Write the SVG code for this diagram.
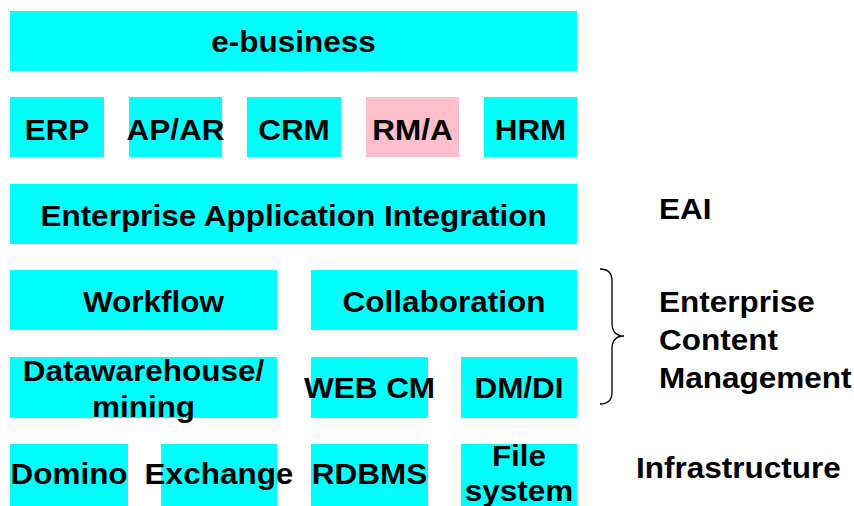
<svg xmlns="http://www.w3.org/2000/svg" width="854" height="506" viewBox="0 0 854 506">
<style>
.b{fill:#00FFFF}
.p{fill:#FFC0CB}
text{font-family:"Liberation Sans",Arial,sans-serif;font-weight:bold;font-size:30px;fill:#000}
.c{text-anchor:middle}
</style>
<rect width="854" height="506" fill="#fff"/>
<g id="ebusiness"><rect class="b" x="10" y="11" width="567" height="60"/><text class="c" transform="translate(293.5,52) scale(1.05,1)">e-business</text></g>
<g id="erp"><rect class="b" x="10" y="97" width="94" height="60"/><text class="c" transform="translate(57,140) scale(1.05,1)">ERP</text></g>
<g id="apar"><rect class="b" x="129" y="97" width="93" height="60"/><text class="c" transform="translate(175.5,140) scale(1.05,1)">AP/AR</text></g>
<g id="crm"><rect class="b" x="247" y="97" width="94" height="60"/><text class="c" transform="translate(294,140) scale(1.05,1)">CRM</text></g>
<g id="rma"><rect class="p" x="366" y="97" width="93" height="60"/><text class="c" transform="translate(412.5,140) scale(1.05,1)">RM/A</text></g>
<g id="hrm"><rect class="b" x="484" y="97" width="93" height="60"/><text class="c" transform="translate(530.5,140) scale(1.05,1)">HRM</text></g>
<g id="eaibox"><rect class="b" x="10" y="184" width="567" height="60"/><text class="c" transform="translate(293.5,226) scale(1.05,1)">Enterprise Application Integration</text></g>
<g id="workflow"><rect class="b" x="10" y="270" width="267" height="60"/><text class="c" transform="translate(153.5,312) scale(1.05,1)">Workflow</text></g>
<g id="collaboration"><rect class="b" x="311" y="270" width="266" height="60"/><text class="c" transform="translate(444,312) scale(1.05,1)">Collaboration</text></g>
<g id="datawarehouse"><rect class="b" x="10" y="357" width="267" height="61"/><text class="c" transform="translate(143.5,381) scale(1.05,1)">Datawarehouse/</text><text class="c" transform="translate(143.5,417) scale(1.05,1)">mining</text></g>
<g id="webcm"><rect class="b" x="311" y="357" width="117" height="61"/><text class="c" transform="translate(369.5,398) scale(1.05,1)">WEB CM</text></g>
<g id="dmdi"><rect class="b" x="461" y="357" width="116" height="61"/><text class="c" transform="translate(519,398) scale(1.05,1)">DM/DI</text></g>
<g id="domino"><rect class="b" x="10" y="444" width="118" height="62"/><text class="c" transform="translate(69,484) scale(1.05,1)">Domino</text></g>
<g id="exchange"><rect class="b" x="161" y="444" width="116" height="62"/><text class="c" transform="translate(219,484) scale(1.05,1)">Exchange</text></g>
<g id="rdbms"><rect class="b" x="311" y="444" width="117" height="62"/><text class="c" transform="translate(369.5,484) scale(1.05,1)">RDBMS</text></g>
<g id="filesystem"><rect class="b" x="461" y="444" width="116" height="62"/><text class="c" transform="translate(519,466) scale(1.05,1)">File</text><text class="c" transform="translate(519,501) scale(1.05,1)">system</text></g>
<g id="eai-label"><text transform="translate(659,219) scale(1.05,1)">EAI</text></g>
<g id="ecm-label"><text transform="translate(659,312) scale(1.05,1)">Enterprise</text><text transform="translate(659,350) scale(1.05,1)">Content</text><text transform="translate(659,388) scale(1.05,1)">Management</text></g>
<g id="infra-label"><text transform="translate(636,478) scale(1.05,1)">Infrastructure</text></g>
<g id="connectors"><path d="M600,269 Q612,269 612,281 L612,323 Q612,336 624,336 Q612,336 612,349 L612,392 Q612,404 600,404" fill="none" stroke="#000" stroke-width="1.3"/></g>
</svg>
